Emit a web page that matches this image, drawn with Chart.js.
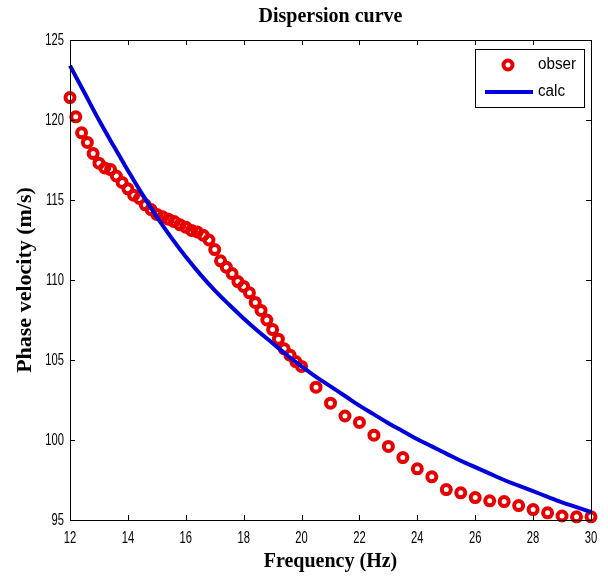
<!DOCTYPE html>
<html>
<head>
<meta charset="utf-8">
<script src="https://cdn.jsdelivr.net/npm/chart.js@4/dist/chart.umd.min.js"></script>
<style>
  html, body { margin: 0; padding: 0; background: #fff; }
  #wrap { width: 608px; height: 578px; }
</style>
</head>
<body>
<div id="wrap"><canvas id="c" width="608" height="578"></canvas></div>
<script>
// Observed dispersion points: frequency (Hz) and phase velocity (m/s)
const freqObs = [
  12.0, 12.2, 12.4, 12.6, 12.8, 13.0, 13.2, 13.4, 13.6, 13.8,
  14.0, 14.2, 14.4, 14.6, 14.8, 15.0, 15.2, 15.4, 15.6, 15.8,
  16.0, 16.2, 16.4, 16.6, 16.8, 17.0, 17.2, 17.4, 17.6, 17.8,
  18.0, 18.2, 18.4, 18.6, 18.8, 19.0, 19.2, 19.4, 19.6, 19.8,
  20.0, 20.5, 21.0, 21.5, 22.0, 22.5, 23.0, 23.5, 24.0, 24.5,
  25.0, 25.5, 26.0, 26.5, 27.0, 27.5, 28.0, 28.5, 29.0, 29.5, 30.0
];
const velObs = [
  121.4, 120.2, 119.2, 118.6, 117.9, 117.3, 117.0, 116.9, 116.5, 116.1,
  115.7, 115.3, 115.1, 114.7, 114.4, 114.1, 113.95, 113.8, 113.65, 113.45,
  113.3, 113.1, 113.0, 112.8, 112.5, 111.9, 111.2, 110.8, 110.4, 109.9,
  109.6, 109.2, 108.6, 108.1, 107.5, 106.9, 106.3, 105.7, 105.3, 104.9,
  104.6, 103.3, 102.3, 101.5, 101.1, 100.3, 99.6, 98.9, 98.2, 97.7,
  96.9, 96.7, 96.4, 96.2, 96.15, 95.9, 95.65, 95.45, 95.25, 95.2, 95.2
];

// Calculated (model) dispersion curve
const freqCalc = [
  12.0, 12.5, 13.0, 13.5, 14.0, 14.5, 15.0, 15.5, 16.0, 16.5,
  17.0, 17.5, 18.0, 18.5, 19.0, 19.5, 20.0, 20.5, 21.0, 21.5,
  22.0, 22.5, 23.0, 23.5, 24.0, 24.5, 25.0, 25.5, 26.0, 26.5,
  27.0, 27.5, 28.0, 28.5, 29.0, 29.5, 30.0
];
const velCalc = [
  123.4, 121.7, 120.0, 118.4, 116.85, 115.35, 113.95, 112.65, 111.45, 110.35,
  109.35, 108.45, 107.6, 106.8, 106.05, 105.3, 104.6, 103.95, 103.35, 102.75,
  102.15, 101.6, 101.05, 100.55, 100.05, 99.6, 99.15, 98.7, 98.3, 97.9,
  97.5, 97.15, 96.8, 96.45, 96.1, 95.8, 95.5
];

// Axis tick values
const xTickValues = [12, 14, 16, 18, 20, 22, 24, 26, 28, 30];
const yTickValues = [95, 100, 105, 110, 115, 120, 125];

const seriesNames = ['obser', 'calc'];
const chartTitle = 'Dispersion curve';
const xTitle = 'Frequency (Hz)';
const yTitle = 'Phase velocity (m/s)';

const RED = '#e60000';
const BLUE = '#0000dc';
const sans = '"Liberation Sans", Arial, sans-serif';
const serifBold = '"Liberation Serif", "DejaVu Serif", serif';

const toPoints = (xs, ys) => xs.map((x, i) => ({ x: x, y: ys[i] }));

// Draw text squeezed horizontally (narrow sans look)
function narrowText(ctx, text, x, y, sx, align) {
  ctx.save();
  ctx.translate(x, y);
  ctx.scale(sx, 1);
  ctx.textAlign = align;
  ctx.fillText(text, 0, 0);
  ctx.restore();
}

// Boxed axes with inward tick marks on all four sides, tick labels, title and inset legend
const boxedAxes = {
  id: 'boxedAxes',
  afterDraw(chart) {
    const { ctx, chartArea: a, scales } = chart;
    const len = 5;
    ctx.save();
    ctx.strokeStyle = '#000';
    ctx.lineWidth = 1;
    ctx.strokeRect(Math.round(a.left) + 0.5, Math.round(a.top) + 0.5,
                   Math.round(a.right - a.left), Math.round(a.bottom - a.top));
    ctx.beginPath();
    scales.x.ticks.forEach(t => {
      const px = Math.round(scales.x.getPixelForValue(t.value)) + 0.5;
      ctx.moveTo(px, a.bottom); ctx.lineTo(px, a.bottom - len);
      ctx.moveTo(px, a.top); ctx.lineTo(px, a.top + len);
    });
    scales.y.ticks.forEach(t => {
      const py = Math.round(scales.y.getPixelForValue(t.value)) + 0.5;
      ctx.moveTo(a.left, py); ctx.lineTo(a.left + len, py);
      ctx.moveTo(a.right, py); ctx.lineTo(a.right - len, py);
    });
    ctx.stroke();

    // Tick labels
    ctx.fillStyle = '#000';
    ctx.font = '17px ' + sans;
    ctx.textBaseline = 'middle';
    scales.x.ticks.forEach(t => {
      narrowText(ctx, String(t.value), scales.x.getPixelForValue(t.value), a.bottom + 18, 0.66, 'center');
    });
    scales.y.ticks.forEach(t => {
      narrowText(ctx, String(t.value), a.left - 6, scales.y.getPixelForValue(t.value) + 0.5, 0.66, 'right');
    });

    // Title centred over the plotting area
    ctx.font = 'bold 20px ' + serifBold;
    ctx.textAlign = 'center';
    ctx.fillText(chartTitle, (a.left + a.right) / 2, 17);

    // Legend box in the upper-right corner
    const lw = 109, lh = 58;
    const lx = Math.round(a.right - 7 - lw), ly = Math.round(a.top + 9);
    ctx.fillStyle = '#fff';
    ctx.fillRect(lx, ly, lw, lh);
    ctx.strokeRect(lx + 0.5, ly + 0.5, lw, lh);
    const obs = chart.data.datasets[0];
    const calc = chart.data.datasets[1];
    ctx.beginPath();
    ctx.arc(lx + 33, ly + 16, obs.pointRadius, 0, Math.PI * 2);
    ctx.strokeStyle = obs.borderColor;
    ctx.lineWidth = obs.pointBorderWidth;
    ctx.stroke();
    ctx.beginPath();
    ctx.moveTo(lx + 10, ly + 43);
    ctx.lineTo(lx + 58, ly + 43);
    ctx.strokeStyle = calc.borderColor;
    ctx.lineWidth = calc.borderWidth;
    ctx.stroke();
    ctx.fillStyle = '#000';
    ctx.font = '16px ' + sans;
    narrowText(ctx, obs.label, lx + 63, ly + 16, 0.95, 'left');
    narrowText(ctx, calc.label, lx + 63, ly + 43, 0.95, 'left');
    ctx.restore();
  }
};

new Chart(document.getElementById('c'), {
  type: 'scatter',
  data: {
    datasets: [
      {
        label: seriesNames[0],
        data: toPoints(freqObs, velObs),
        showLine: false,
        pointStyle: 'circle',
        pointRadius: 4.5,
        pointBorderWidth: 4,
        borderColor: RED,
        pointBorderColor: RED,
        pointBackgroundColor: 'rgba(0,0,0,0)',
        backgroundColor: 'rgba(0,0,0,0)',
        clip: false,
        order: 2
      },
      {
        label: seriesNames[1],
        data: toPoints(freqCalc, velCalc),
        showLine: true,
        pointRadius: 0,
        borderColor: BLUE,
        borderWidth: 4,
        tension: 0.4,
        clip: false,
        order: 1
      }
    ]
  },
  options: {
    responsive: false,
    animation: false,
    events: [],
    layout: { padding: { top: 40, right: 17, left: 0, bottom: 0 } },
    plugins: {
      legend: { display: false },
      title: { display: false },
      tooltip: { enabled: false }
    },
    scales: {
      x: {
        type: 'linear',
        min: 12, max: 30,
        afterBuildTicks: s => { s.ticks = xTickValues.map(v => ({ value: v })); },
        afterFit: s => { s.height = 58; },
        grid: { display: false, drawTicks: false },
        border: { display: false },
        ticks: { display: false },
        title: {
          display: true, text: xTitle, color: '#000',
          font: { family: serifBold, size: 20, weight: 'bold' },
          padding: { top: 0, bottom: 4 }
        }
      },
      y: {
        type: 'linear',
        min: 95, max: 125,
        afterBuildTicks: s => { s.ticks = yTickValues.map(v => ({ value: v })); },
        afterFit: s => { s.width = 70; },
        grid: { display: false, drawTicks: false },
        border: { display: false },
        ticks: { display: false },
        title: {
          display: true, text: yTitle, color: '#000',
          font: { family: serifBold, size: 22, weight: 'bold' },
          padding: { top: 12, bottom: 0 }
        }
      }
    }
  },
  plugins: [boxedAxes]
});
</script>
</body>
</html>
